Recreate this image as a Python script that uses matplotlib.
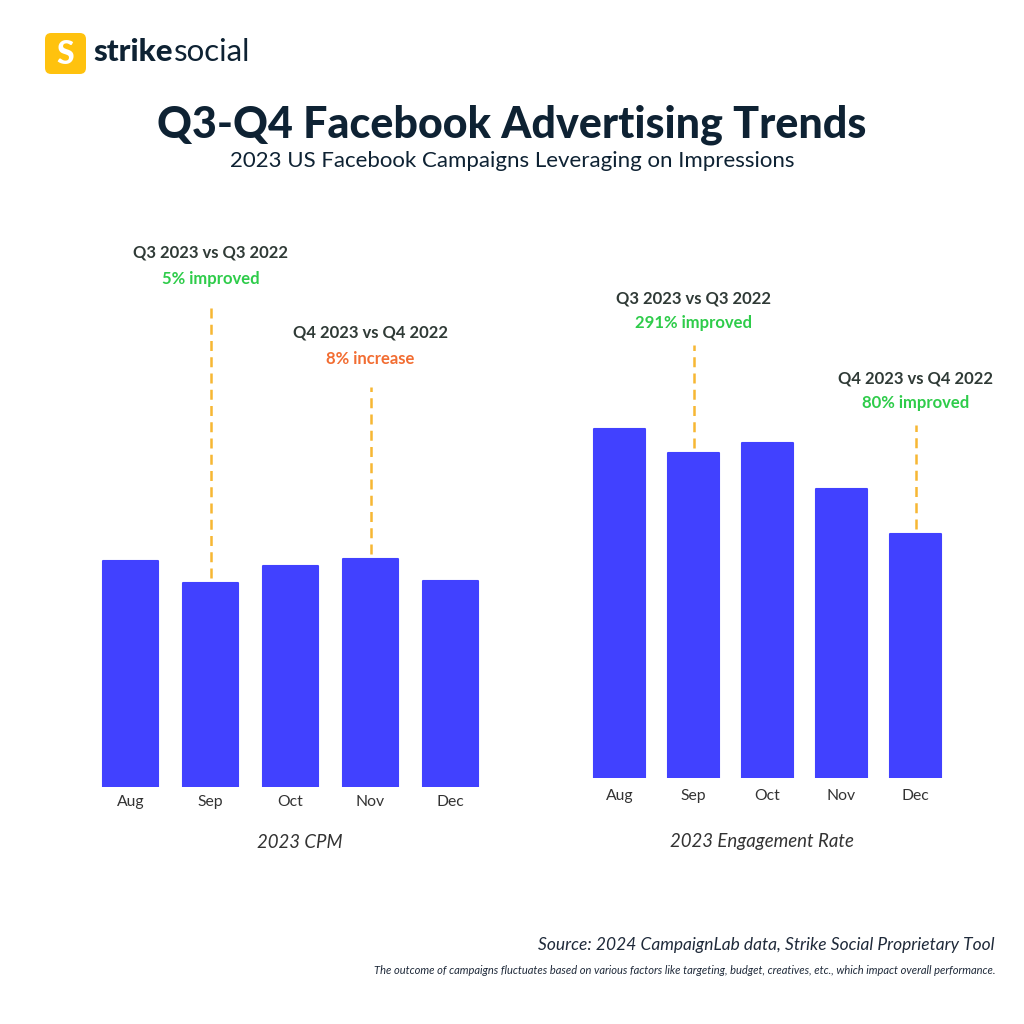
import matplotlib.pyplot as plt
from matplotlib.patches import FancyBboxPatch

# Data (bar heights, relative units)
months = ["Aug", "Sep", "Oct", "Nov", "Dec"]
cpm_values = [226, 204, 221, 228, 206]
engagement_values = [349, 325, 335, 289, 244]

left_notes = [  # (bar index, header, change, colour, line top)
    (1, "Q3 2023 vs Q3 2022", "5% improved", "#2ecc4a", 480),
    (3, "Q4 2023 vs Q4 2022", "8% increase", "#f26d32", 400),
]
right_notes = [
    (1, "Q3 2023 vs Q3 2022", "291% improved", "#2ecc4a", 433),
    (4, "Q4 2023 vs Q4 2022", "80% improved", "#2ecc4a", 353),
]

BAR = "#4141ff"
DASH = "#f7b733"
DARK = "#0e2233"
GREY = "#2f3a36"
FONT = "Lato"

plt.rcParams['font.family'] = [FONT, 'DejaVu Sans']

fig = plt.figure(figsize=(10.24, 10.24), dpi=100)
W = H = 1024.0


def fx(px):
    return px / W


def fy(py):
    return 1 - py / H


def draw_panel(rect, values, notes, ymax, label_pad, off_head, off_change):
    ax = fig.add_axes(rect)
    x = list(range(len(values)))
    ax.bar(x, values, width=0.69, color=BAR, edgecolor=BAR,
           linewidth=1.5, joinstyle="round")
    ax.set_xlim(-0.5, len(values) - 0.5)
    ax.set_ylim(0, ymax)
    ax.set_xticks(x)
    ax.set_xticklabels(months, fontsize=11.3, color="#333333")
    ax.tick_params(axis="x", length=0, pad=label_pad)
    ax.set_yticks([])
    for s in ax.spines.values():
        s.set_visible(False)
    for idx, head, change, col, top in notes:
        v = values[idx]
        ax.plot([idx, idx], [v + 5, top], color=DASH, lw=1.8,
                dashes=(4, 2.5), clip_on=False)
        ax.text(idx, top + off_head, head, ha="center", va="center",
                fontsize=12, fontweight="bold", color=GREY, clip_on=False)
        ax.text(idx, top + off_change, change, ha="center", va="center",
                fontsize=12, fontweight="bold", color=col, clip_on=False)
    return ax


draw_panel([fx(90.5), fy(787), fx(400), 557 / H], cpm_values, left_notes,
           557, 6, 54, 28)
draw_panel([fx(582.5), fy(778), fx(370), 548 / H], engagement_values,
           right_notes, 548, 8, 47, 22)

# Axis titles
fig.text(fx(300), fy(842), "2023 CPM", ha="center", va="center",
         fontsize=13.4, style="italic", color="#333333")
fig.text(fx(762), fy(842), "2023 Engagement Rate", ha="center", va="center",
         fontsize=13.4, style="italic", color="#333333")

# Title + subtitle
fig.text(0.5, fy(125), "Q3-Q4 Facebook Advertising Trends", ha="center",
         va="center", fontsize=31, fontweight="black", color=DARK)
fig.text(0.5, fy(161), "2023 US Facebook Campaigns Leveraging on Impressions",
         ha="center", va="center", fontsize=16, color=DARK)

# Footer
fig.text(fx(995), fy(945), "Source: 2024 CampaignLab data, Strike Social Proprietary Tool",
         ha="right", va="center", fontsize=12.5, style="italic", color="#1f2a3a")
fig.text(fx(995), fy(971),
         "The outcome of campaigns fluctuates based on various factors like targeting, "
         "budget, creatives, etc., which impact overall performance.",
         ha="right", va="center", fontsize=8, style="italic", color="#1f2a3a")

# Logo
logo = FancyBboxPatch((fx(45), fy(74)), fx(41), 41 / H,
                      boxstyle="round,pad=0,rounding_size=0.006",
                      transform=fig.transFigure, facecolor="#ffc20e",
                      edgecolor="none")
fig.patches.append(logo)
fig.text(fx(65.5), fy(55), "S", ha="center", va="center", fontsize=23,
         fontweight="black", color="white")
t1 = fig.text(fx(93), fy(52), "strike", ha="left", va="center", fontsize=22.5,
              fontweight="black", color=DARK)
fig.canvas.draw()
bb = t1.get_window_extent()
fig.text(bb.x1 / W + 0.001, fy(52), "social", ha="left", va="center",
         fontsize=22.5, color=DARK)

fig.savefig("out.png", dpi=100, facecolor="white")
